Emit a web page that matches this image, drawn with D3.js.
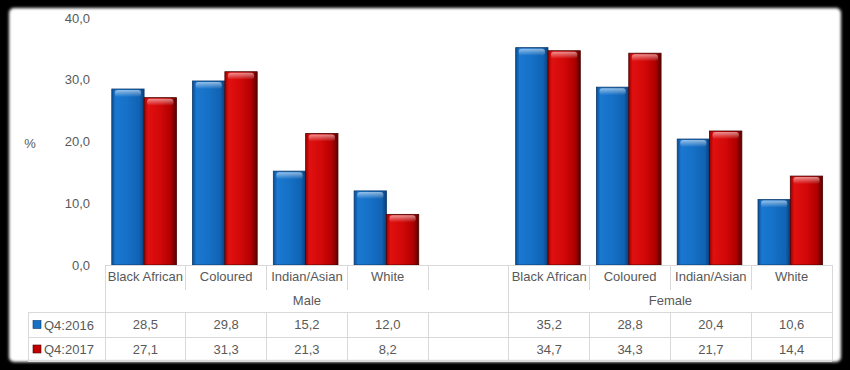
<!DOCTYPE html>
<html>
<head>
<meta charset="utf-8">
<script src="https://cdn.jsdelivr.net/npm/d3@7"></script>
<style>
  html, body { margin: 0; padding: 0; background: #000; }
  svg { display: block; }
  text { font-family: "Liberation Sans", Arial, sans-serif; fill: #595959; }
</style>
</head>
<body>
<div id="chart"></div>
<script>
const groups = ["Male", "Female"];
const categories = ["Black African", "Coloured", "Indian/Asian", "White"];
const seriesNames = ["Q4:2016", "Q4:2017"];
const q2016 = [28.5, 29.8, 15.2, 12.0, 35.2, 28.8, 20.4, 10.6];
const q2017 = [27.1, 31.3, 21.3, 8.2, 34.7, 34.3, 21.7, 14.4];
const yTicks = [0, 10, 20, 30, 40];

const width = 850, height = 370;
const svg = d3.select("#chart").append("svg").attr("width", width).attr("height", height);

// gradients + blur for the card look
const defs = svg.append("defs");
const blur = defs.append("filter").attr("id", "soft").attr("x", "-5%").attr("y", "-5%").attr("width", "110%").attr("height", "110%");
blur.append("feGaussianBlur").attr("stdDeviation", 1.6);

function hGrad(id, stops) {
    const g = defs.append("linearGradient").attr("id", id).attr("x1", 0).attr("x2", 1).attr("y1", 0).attr("y2", 0);
    stops.forEach(s => g.append("stop").attr("offset", s[0]).attr("stop-color", s[1]));
}
hGrad("blueBody", [[0, "#0b4d92"], [0.12, "#1b78d0"], [0.5, "#1570c6"], [0.85, "#1163b3"], [1, "#0a3f78"]]);
hGrad("redBody", [[0, "#9c0000"], [0.12, "#e01010"], [0.5, "#d20808"], [0.82, "#b00000"], [1, "#5a0000"]]);
const capGrad = defs.append("linearGradient").attr("id", "cap").attr("x1", 0).attr("x2", 0).attr("y1", 0).attr("y2", 1);
capGrad.append("stop").attr("offset", 0).attr("stop-color", "#fff").attr("stop-opacity", 0.55);
capGrad.append("stop").attr("offset", 1).attr("stop-color", "#fff").attr("stop-opacity", 0);

svg.append("rect").attr("x", 9).attr("y", 8).attr("width", 832).attr("height", 354)
    .attr("rx", 5).attr("fill", "#fff").attr("filter", "url(#soft)");

// slot keys: 4 male, a blank slot, 4 female
const slots = [];
groups.forEach((g, gi) => {
    categories.forEach(c => slots.push(g + "|" + c));
    if (gi === 0) slots.push("gap");
});
const rows = [];
let k = 0;
groups.forEach(g => categories.forEach(c => {
    rows.push({ key: g + "|" + c, group: g, cat: c, values: [q2016[k], q2017[k]] });
    k++;
}));

const x = d3.scaleBand().domain(slots).range([105, 832]).paddingInner(0).paddingOuter(0);
const xs = d3.scaleBand().domain(seriesNames).range([0, x.bandwidth()]).paddingInner(0).paddingOuter(0.25).align(0.42);
const y = d3.scaleLinear().domain([0, 40]).range([265, 18]);

const fmt = v => d3.format(".1f")(v).replace(".", ",");

// y axis
const yAxis = svg.append("g").attr("transform", "translate(105,0)")
    .call(d3.axisLeft(y).tickValues(yTicks).tickSize(0).tickPadding(15).tickFormat(fmt));
yAxis.select(".domain").remove();
yAxis.selectAll("text").attr("font-size", 13).style("fill", "#595959")
    .style("font-family", "Liberation Sans, Arial, sans-serif");
svg.append("text").attr("x", 30).attr("y", 148).attr("text-anchor", "middle")
    .attr("font-size", 13).text("%");

// bars
const fills = ["url(#blueBody)", "url(#redBody)"];
const strokes = ["#0a3a6e", "#4a0000"];
const barG = svg.append("g").selectAll("g").data(rows).join("g")
    .attr("transform", d => `translate(${x(d.key)},0)`);
seriesNames.forEach((s, si) => {
    const bg = barG.append("g");
    bg.append("rect")
        .attr("x", xs(s)).attr("y", d => y(d.values[si]))
        .attr("width", xs.bandwidth()).attr("height", d => y(0) - y(d.values[si]))
        .attr("fill", fills[si]).attr("stroke", strokes[si]).attr("stroke-width", 0.8);
    bg.append("rect")
        .attr("x", xs(s) + 3).attr("y", d => y(d.values[si]) + 1)
        .attr("width", xs.bandwidth() - 6).attr("height", 7).attr("rx", 3)
        .attr("fill", "url(#cap)");
});

// data table
const lineColor = "#d9d9d9";
const tbl = svg.append("g").attr("stroke", lineColor).attr("stroke-width", 1).attr("shape-rendering", "crispEdges");
const r0 = 265, r1 = 290, r2 = 312, r3 = 337, r4 = 361;
tbl.append("line").attr("x1", 105).attr("x2", 832).attr("y1", r0).attr("y2", r0);
tbl.append("line").attr("x1", 28).attr("x2", 832).attr("y1", r2).attr("y2", r2);
tbl.append("line").attr("x1", 28).attr("x2", 832).attr("y1", r3).attr("y2", r3);
tbl.append("line").attr("x1", 28).attr("x2", 832).attr("y1", r4).attr("y2", r4);
tbl.append("line").attr("x1", 28).attr("x2", 28).attr("y1", r2).attr("y2", r4);
const edges = slots.map(s => x(s)).concat([x.range()[1]]);
edges.forEach((e, i) => {
    const full = i === 0 || i === 5 || i === edges.length - 1;
    if (full) {
        tbl.append("line").attr("x1", e).attr("x2", e).attr("y1", r0).attr("y2", r4);
    } else {
        tbl.append("line").attr("x1", e).attr("x2", e).attr("y1", r0).attr("y2", r1);
        tbl.append("line").attr("x1", e).attr("x2", e).attr("y1", r2).attr("y2", r4);
    }
});

const txt = svg.append("g").attr("font-size", 13).attr("text-anchor", "middle");
rows.forEach(d => {
    const cx = x(d.key) + x.bandwidth() / 2;
    txt.append("text").attr("x", cx).attr("y", 281).text(d.cat);
    txt.append("text").attr("x", cx).attr("y", 329).text(fmt(d.values[0]));
    txt.append("text").attr("x", cx).attr("y", 354).text(fmt(d.values[1]));
});
// group labels
const maleCx = (x("Male|Black African") + x("gap") + x.bandwidth()) / 2;
const femaleCx = (x("Female|Black African") + x.range()[1]) / 2;
txt.append("text").attr("x", maleCx).attr("y", 305).text(groups[0]);
txt.append("text").attr("x", femaleCx).attr("y", 305).text(groups[1]);

// legend keys in the table
const keyColors = ["#1570c6", "#c00000"];
seriesNames.forEach((s, i) => {
    const cy = i === 0 ? (r2 + r3) / 2 : (r3 + r4) / 2;
    svg.append("rect").attr("x", 33).attr("y", cy - 4).attr("width", 8).attr("height", 8)
        .attr("fill", keyColors[i]).attr("stroke", strokes[i]).attr("stroke-width", 0.6);
    svg.append("text").attr("x", 44).attr("y", cy + 5).attr("font-size", 13).text(s);
});
</script>
</body>
</html>
